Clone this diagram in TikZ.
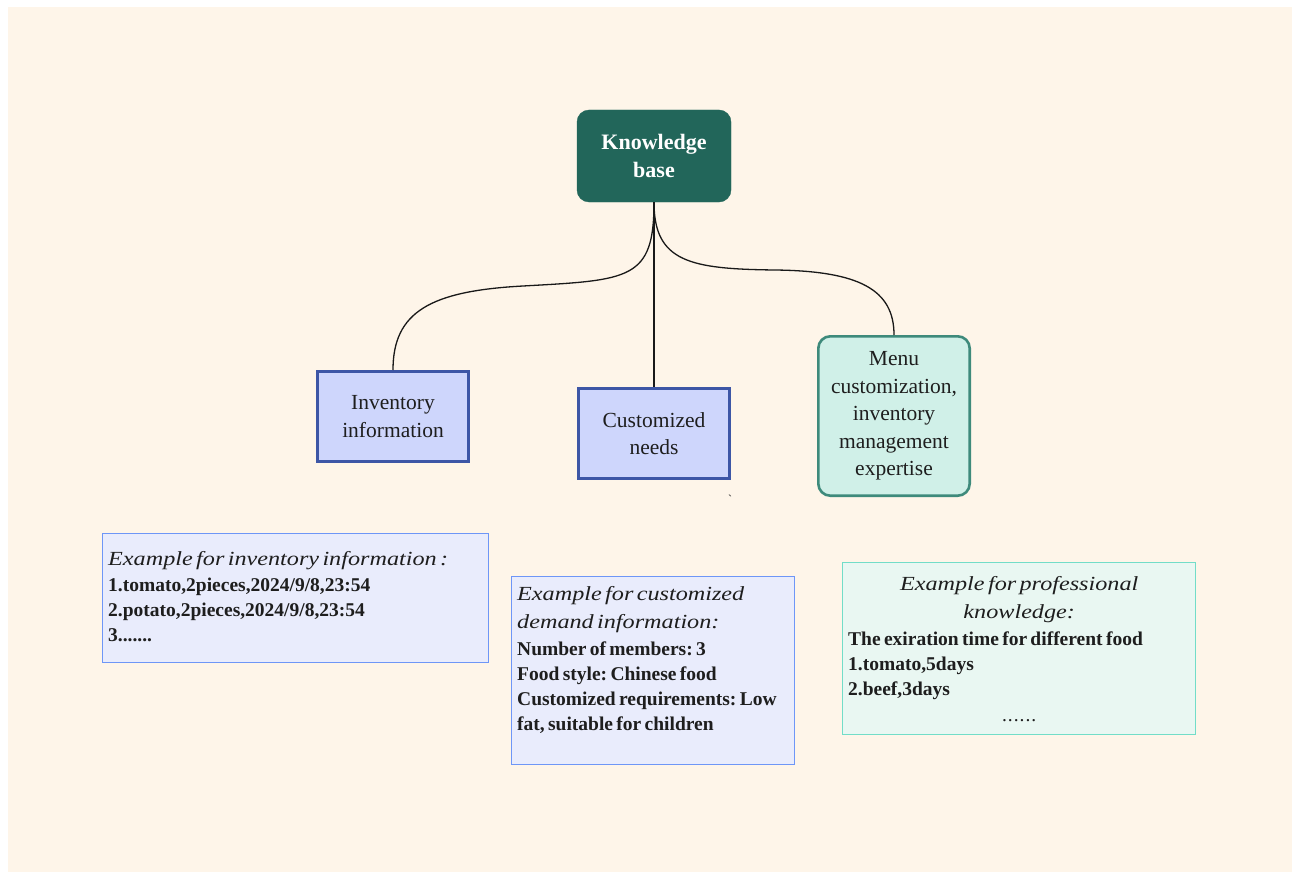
\documentclass[tikz,border=0pt]{standalone}
\usepackage{fontspec}
\setmainfont{Liberation Serif}
\newfontfamily\wideserif[FakeStretch=1.21]{Liberation Serif}
\usetikzlibrary{calc}
\frenchspacing

\definecolor{paper}{HTML}{FEF5E9}
\definecolor{kbfill}{HTML}{22665A}
\definecolor{infofill}{HTML}{CED6FC}
\definecolor{infoline}{HTML}{3D56A6}
\definecolor{expfill}{HTML}{D0F0E8}
\definecolor{expline}{HTML}{3E8A7B}
\definecolor{exfill}{HTML}{E9ECFC}
\definecolor{exline}{HTML}{6E96F7}
\definecolor{profill}{HTML}{E9F7F2}
\definecolor{proline}{HTML}{72DDC8}
\definecolor{ink}{HTML}{1E1E1E}

\newcommand\exhead{\wideserif\itshape\fontsize{20}{28}\selectfont}
\newcommand\exbody{\bfseries\fontsize{19.5}{25}\selectfont}

\tikzset{
  topic/.style={rectangle, rounded corners=12pt, fill=kbfill, draw=kbfill,
    text=white, font=\bfseries\fontsize{22}{28}\selectfont, align=center,
    minimum width=154pt, minimum height=92pt, inner sep=0pt},
  infobox/.style={rectangle, fill=infofill, draw=infoline, line width=2.6pt,
    text=ink, font=\fontsize{21.5}{27.5}\selectfont, align=center,
    minimum width=151.4pt, minimum height=90.4pt, inner sep=0pt},
  skillbox/.style={rectangle, rounded corners=12pt, fill=expfill, draw=expline,
    line width=2.6pt, text=ink, font=\fontsize{21.5}{27.5}\selectfont,
    align=center, minimum width=151.4pt, minimum height=159.4pt, inner sep=0pt},
  samplebox/.style={rectangle, fill=exfill, draw=exline, line width=1.4pt,
    inner sep=0pt},
  probox/.style={rectangle, fill=profill, draw=proline, line width=1.4pt,
    inner sep=0pt},
  sampletext/.style={anchor=base west, inner sep=0pt, text=ink, align=left},
  link/.style={draw=black!90, line width=1.3pt},
}

\begin{document}
\begin{tikzpicture}[x=1pt, y=-1pt]
  \useasboundingbox (0,0) rectangle (1292,872);
  \fill[white] (0,0) rectangle (1292,872);
  \fill[paper] (8,7) rectangle (1292,872);

  % hierarchy
  \node[topic] (kb) at (654,156) {Knowledge\\base};
  \node[infobox] (inv) at (393,416.5) {Inventory\\information};
  \node[infobox] (cust) at (654,433.5) {Customized\\needs};
  \node[skillbox] (menu) at (894,416) {Menu\\customization,\\inventory\\management\\expertise};

  % branches
  \draw[link] (kb.south) .. controls (654,280) and (630,280) .. (523,286)
                         .. controls (430,291) and (393,312) .. (inv.north);
  \draw[link] (kb.south) -- (cust.north);
  \draw[link] (kb.south) .. controls (654,262) and (690,269) .. (775,270)
                         .. controls (860,271) and (894,290) .. (menu.north);

  \node[inner sep=0pt, text=ink] (tick) at (730,499)
    {\fontsize{12}{12}\selectfont\textasciigrave};

  % example panels
  \node[samplebox, minimum width=386pt, minimum height=129pt] (ex1) at (295.5,598) {};
  \node[sampletext, text width=375pt] (ex1txt) at (108,565) {%
    {\exhead Example for inventory information :\par}%
    \vspace{1pt}%
    {\exbody 1.tomato,2pieces,2024/9/8,23:54\par
     2.potato,2pieces,2024/9/8,23:54\par
     3.......\par}};

  \node[samplebox, minimum width=283pt, minimum height=188pt] (ex2) at (653,670.5) {};
  \node[sampletext, text width=275pt] (ex2txt) at (517,600) {%
    {\exhead Example for customized\par demand information:\par}%
    \vspace{2pt}%
    {\exbody Number of members: 3\par
     Food style: Chinese food\par
     Customized requirements: Low\par
     fat, suitable for children\par}};

  \node[probox, minimum width=353pt, minimum height=172pt] (ex3) at (1019,648.5) {};
  \node[sampletext, text width=342pt] (ex3txt) at (848,590) {%
    {\exhead\centering Example for professional\par knowledge:\par}%
    \vspace{2pt}%
    {\exbody The exiration time for different food\par
     1.tomato,5days\par
     2.beef,3days\par}%
    \vspace{1pt}%
    {\centering\fontsize{19.5}{25}\selectfont .\kern1pt.\kern1pt.\kern1pt.\kern1pt.\kern1pt.\par}};
\end{tikzpicture}
\end{document}
